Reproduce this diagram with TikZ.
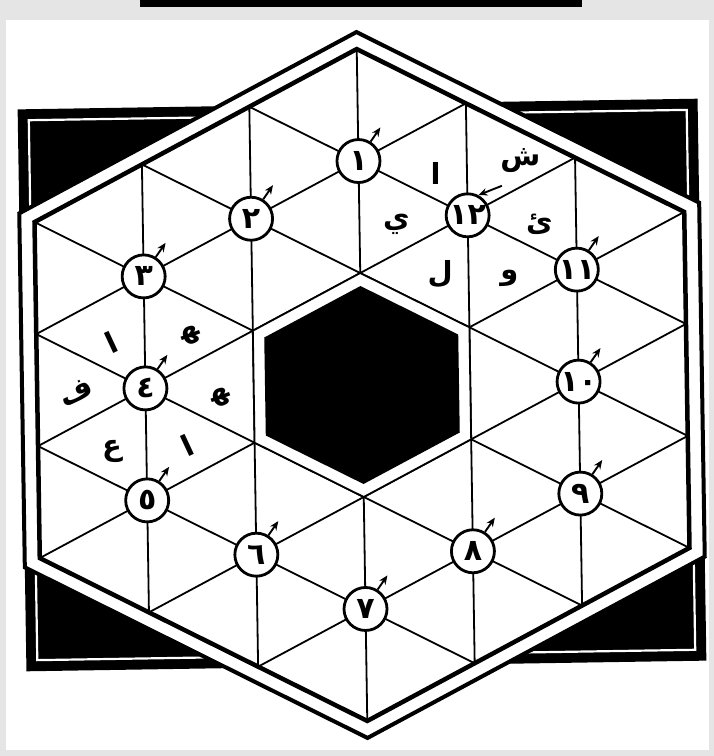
\documentclass[tikz,border=0pt]{standalone}
\usepackage{fontspec}
\usetikzlibrary{arrows.meta}
\TeXXeTstate=1
\newfontfamily\arabicfont[Script=Arabic]{DejaVu Sans}
\begin{document}
\begin{tikzpicture}[x=1pt,y=-1pt,
  gridline/.style={line width=1.8pt, line cap=round},
  numc/.style={circle, draw, line width=2.8pt, fill=white, minimum size=43pt, inner sep=0pt,
    font=\arabicfont\bfseries\fontsize{30}{30}\selectfont},
  letter/.style={inner sep=0pt, font=\arabicfont\bfseries\fontsize{29}{29}\selectfont},
  arr/.style={line width=1.9pt, -{Stealth[length=9pt,width=7.5pt]}}]
\useasboundingbox (0,0) rectangle (714,756);
\fill[gray!20] (0,0) rectangle (714,756);
\fill[white] (6,20) rectangle (709,750);
\fill[black] (140,0) rectangle (582,7);

\begin{scope}[shift={(362,385)}, rotate=0.9]
  % black frame behind
  \fill[black] (-340,-281) rectangle (340,281);
  \draw[white, line width=2.2pt] (-329,-270) rectangle (329,270);
  % outer hexagon
  \filldraw[fill=white, line width=4pt, line join=miter]
    (0,-353) -- (340,-177) -- (340,177) -- (0,353) -- (-340,177) -- (-340,-177) -- cycle;
  % triangular grid
  \begin{scope}
    \clip (0,-336) -- (324.9,-168) -- (324.9,168) -- (0,336) -- (-324.9,168) -- (-324.9,-168) -- cycle;
    \foreach \i in {-2,...,2} \draw[gridline] ({\i*108.3},-400) -- ({\i*108.3},400);
    \foreach \j in {-2,...,2} {
      \draw[gridline] (-433.2,{-224+\j*112}) -- (433.2,{224+\j*112});
      \draw[gridline] (-433.2,{224+\j*112}) -- (433.2,{-224+\j*112});
    }
  \end{scope}
  % central hexagon
  \filldraw[fill=white, gridline]
    (0,-112) -- (108.3,-56) -- (108.3,56) -- (0,112) -- (-108.3,56) -- (-108.3,-56) -- cycle;
  \fill[black] (0,-99) -- (97,-49) -- (97,49) -- (0,99) -- (-97,49) -- (-97,-49) -- cycle;
  % inner hexagon border
  \draw[line width=4.5pt, line join=miter]
    (0,-336) -- (324.9,-168) -- (324.9,168) -- (0,336) -- (-324.9,168) -- (-324.9,-168) -- cycle;

  % numbered circles
  \node[numc] (c1)  at (0,-224)      {١};
  \node[numc] (c2)  at (-108.3,-168) {٢};
  \node[numc] (c3)  at (-216.6,-112) {٣};
  \node[numc] (c4)  at (-216.6,0)    {٤};
  \node[numc] (c5)  at (-216.6,112)  {٥};
  \node[numc] (c6)  at (-108.3,168)  {٦};
  \node[numc] (c7)  at (0,224)       {٧};
  \node[numc] (c8)  at (108.3,168)   {٨};
  \node[numc] (c9)  at (216.6,112)   {٩};
  \node[numc] (c10) at (216.6,0)     {١٠};
  \node[numc] (c11) at (216.6,-112)  {١١};
  \node[numc] (c12) at (108.3,-168)  {١٢};

  % small arrows
  \foreach \c in {c1,c2,c3,c4,c5,c6,c7,c8,c9,c10,c11}
    \draw[arr] (\c.58) -- ++(10,-14);
  \coordinate (t12) at (143,-197);
  \draw[arr] (t12) -- (c12.62);

  % letters around 12
  \node[letter] (l1) at (77,-210)  {\beginR ا\endR};
  \node[letter] (l2) at (37,-160)  {\beginR ي\endR};
  \node[letter] (l3) at (80,-110)  {\beginR ل\endR};
  \node[letter] (l4) at (149,-104) {\beginR و\endR};
  \node[letter] (l5) at (180,-158) {\beginR ئ\endR};
  \node[letter] (l6) at (162,-222) {\beginR ش\endR};
  % letters around 4
  \node[letter, rotate=25] (m1) at (-250,-47) {\beginR ا\endR};
  \node[letter, rotate=20] (m2) at (-170,-52) {\beginR ^^^^200dه^^^^200d\endR};
  \node[letter, rotate=20] (m3) at (-141,10)  {\beginR ^^^^200dه^^^^200d\endR};
  \node[letter, rotate=25] (m4) at (-176,58)  {\beginR ا\endR};
  \node[letter] (m5) at (-251,62)  {\beginR ع\endR};
  \node[letter, rotate=25] (m6) at (-286,3)   {\beginR ف\endR};
\end{scope}
\end{tikzpicture}
\end{document}
